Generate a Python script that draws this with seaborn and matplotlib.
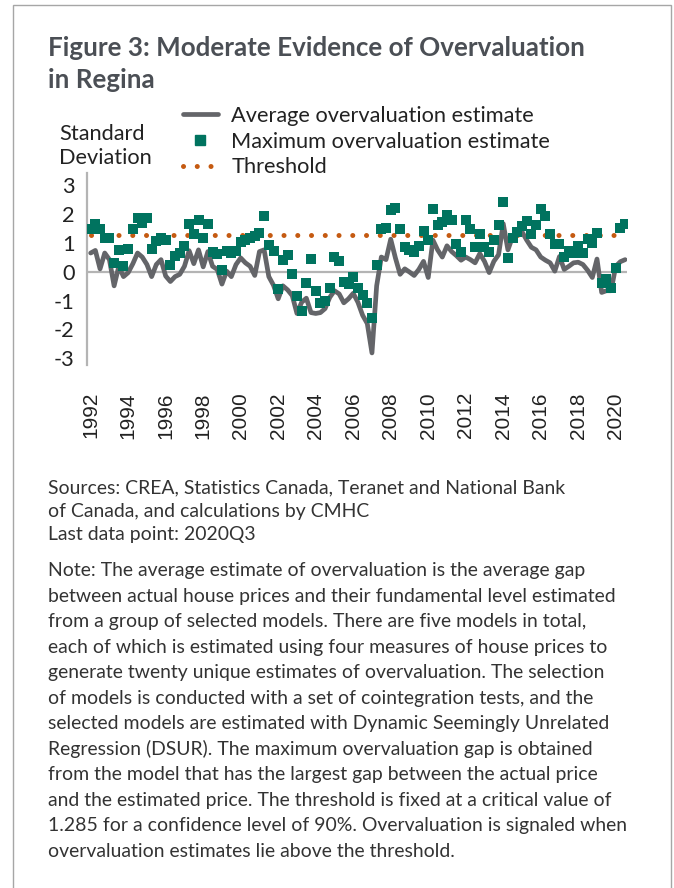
import matplotlib
matplotlib.use("Agg")
import matplotlib.pyplot as plt
import matplotlib.patches as mpatches
from matplotlib.lines import Line2D
import numpy as np
import pandas as pd
import seaborn as sns

# ---------------- data ----------------
start_year = 1992
n_quarters = 115  # 1992Q1 .. 2020Q3

avg_estimate = [
    0.65, 0.74, 0.10, 0.65, 0.42, -0.49, 0.19, -0.17, -0.03, 0.28,
    0.65, 0.51, 0.25, -0.17, 0.25, 0.42, -0.15, -0.34, -0.17, -0.09,
    0.19, 0.73, 0.28, 0.76, 0.17, 0.70, 0.19, 0.08, -0.43, 0.02,
    -0.17, 0.25, 0.48, 0.31, 0.19, -0.13, 0.70, 0.76, -0.17, -0.47,
    -0.94, -0.49, -0.63, -0.83, -1.45, -1.06, -0.92, -1.42, -1.45, -1.42,
    -1.28, -0.89, -0.66, -0.77, -1.08, -0.94, -0.75, -1.06, -1.51, -1.80,
    -2.82, -0.49, 0.51, 0.42, 1.13, 0.48, -0.09, 0.10, -0.01, -0.13,
    0.08, 0.36, -0.20, 1.10, 0.76, 0.51, 0.90, 0.70, 0.56, 0.40,
    0.51, 0.42, 0.31, 0.63, 0.36, -0.03, 0.36, 0.59, 1.67, 0.76,
    1.22, 1.39, 1.39, 1.10, 0.85, 0.76, 0.51, 0.40, 0.31, 0.02,
    0.53, 0.08, 0.19, 0.31, 0.33, 0.25, 0.05, -0.20, 0.44, -0.72,
    -0.66, -0.66, 0.19, 0.35, 0.42,
]

max_estimate = [
    1.50, 1.67, 1.47, 1.16, 1.16, 0.31, 0.76, 0.19, 0.80, 1.50,
    1.86, 1.69, 1.86, 0.78, 1.07, 1.18, 1.10, 0.25, 0.53, 0.65,
    0.88, 1.65, 1.30, 1.78, 1.16, 1.67, 0.67, 0.63, 0.05, 0.73,
    0.65, 0.73, 1.05, 1.10, 1.16, 1.25, 1.33, 1.95, 0.93, 0.73,
    -0.60, 0.40, 0.59, -0.07, -0.83, -1.38, -0.38, 0.44, -0.66, -1.08,
    -1.03, -0.57, 0.51, 0.39, -0.35, -0.43, -0.20, -0.55, -0.81, -1.09,
    -1.60, 0.24, 1.49, 1.53, 2.13, 2.22, 1.48, 0.85, 0.76, 0.67,
    0.90, 1.43, 1.10, 2.18, 1.61, 1.73, 1.98, 1.78, 0.97, 0.68,
    1.78, 1.47, 0.85, 1.30, 0.85, 0.67, 1.10, 1.64, 2.43, 0.48,
    1.16, 1.39, 1.58, 1.75, 1.30, 1.61, 2.18, 1.95, 1.30, 0.97,
    0.97, 0.51, 0.73, 0.65, 0.91, 0.65, 1.14, 0.99, 1.33, -0.38,
    -0.26, -0.57, 0.14, 1.52, 1.67,
]

threshold_value = 1.285
tick_years = list(range(1992, 2021, 2))
y_ticks = [3, 2, 1, 0, -1, -2, -3]

legend_labels = ["Average overvaluation estimate",
                 "Maximum overvaluation estimate",
                 "Threshold"]

title_lines = ["Figure 3: Moderate Evidence of Overvaluation", "in Regina"]
y_label_lines = ["Standard", "Deviation"]
source_lines = [
    "Sources: CREA, Statistics Canada, Teranet and National Bank",
    "of Canada, and calculations by CMHC",
    "Last data point: 2020Q3",
]
note_lines = [
    "Note: The average estimate of overvaluation is the average gap",
    "between actual house prices and their fundamental level estimated",
    "from a group of selected models. There are five models in total,",
    "each of which is estimated using four measures of house prices to",
    "generate twenty unique estimates of overvaluation. The selection",
    "of models is conducted with a set of cointegration tests, and the",
    "selected models are estimated with Dynamic Seemingly Unrelated",
    "Regression (DSUR). The maximum overvaluation gap is obtained",
    "from the model that has the largest gap between the actual price",
    "and the estimated price. The threshold is fixed at a critical value of",
    "1.285 for a confidence level of 90%. Overvaluation is signaled when",
    "overvaluation estimates lie above the threshold.",
]

# ---------------- styling ----------------
C_LINE = "#646569"
C_MARK = "#00735f"
C_THR = "#c55a11"
C_AXIS = "#b4b4b4"
C_TITLE = "#4b4f55"
C_TEXT = "#333333"
FONT = "Lato"

sns.set_theme(style="white")
plt.rcParams["font.family"] = [FONT, "DejaVu Sans"]

W, H = 674, 888
fig = plt.figure(figsize=(W / 100, H / 100), dpi=100)
renderer = fig.canvas.get_renderer()


def fx(px):
    return px / W


def fy(py):
    return 1 - py / H


def fit_size(text, target_px, weight="normal", family=FONT, base=20.0):
    t = fig.text(0, 0, text, fontsize=base, family=family, weight=weight)
    w = t.get_window_extent(renderer).width
    t.remove()
    return base * target_px / w


df = pd.DataFrame({
    "q": np.arange(n_quarters),
    "avg": avg_estimate,
    "max": max_estimate,
    "thr": [threshold_value] * n_quarters,
})

ax_left, ax_right, ax_top, ax_bottom = 87.3, 627.0, 172.7, 365.0
ax = fig.add_axes([fx(ax_left), fy(ax_bottom), fx(ax_right - ax_left),
                   (ax_bottom - ax_top) / H])

sns.lineplot(data=df, x="q", y="thr", ax=ax, color=C_THR, lw=3.6,
             linestyle=(0, (0.01, 2.74)), dash_capstyle="round", zorder=2)
sns.lineplot(data=df, x="q", y="avg", ax=ax, color=C_LINE, lw=3.4,
             solid_joinstyle="round", zorder=3)
sns.scatterplot(data=df, x="q", y="max", ax=ax, color=C_MARK, marker="s",
                s=44, linewidth=0, zorder=4)
ax.axhline(0, color=C_AXIS, lw=1.6, zorder=1)

ax.set_xlim(-0.72, 114.4)
ax.set_ylim(-3.24, 3.44)
ax.set_xlabel("")
ax.set_ylabel("")
for s in ["top", "right", "bottom"]:
    ax.spines[s].set_visible(False)
ax.spines["left"].set_color(C_AXIS)
ax.spines["left"].set_linewidth(1.6)

ax.set_xticks([(y - start_year) * 4 for y in tick_years])
ax.set_xticklabels([str(y) for y in tick_years], rotation=90,
                   family=["Liberation Sans", "DejaVu Sans"], fontsize=15,
                   color="#222222")
ax.tick_params(axis="x", length=0, pad=19.5)

leg_size = fit_size(legend_labels[0], 295) * 1.03
ax.set_yticks(y_ticks)
ax.set_yticklabels([str(v) for v in y_ticks],
                   fontsize=leg_size, color="#222222")
ax.tick_params(axis="y", length=0, pad=9.0)

# legend
handles = [
    Line2D([], [], color=C_LINE, lw=3.4),
    Line2D([], [], color=C_MARK, marker="s", ms=6.6, lw=0),
    Line2D([], [], color=C_THR, lw=3.6, linestyle=(0, (0.01, 2.74)),
           dash_capstyle="round"),
]
leg = fig.legend(handles, legend_labels, loc="upper left",
                 bbox_to_anchor=(fx(183), fy(106)), frameon=False,
                 fontsize=leg_size, handlelength=1.6, handletextpad=0.62,
                 labelspacing=0.26, borderpad=0, borderaxespad=0)
for t in leg.get_texts():
    t.set_color("#222222")

# y label
for i, line in enumerate(y_label_lines):
    fig.text(fx(59), fy(140 + 24 * i), line, fontsize=leg_size,
             color="#222222", va="baseline")

# title
title_size = fit_size(title_lines[0], 535, weight="bold")
for i, line in enumerate(title_lines):
    fig.text(fx(48), fy(56 + 32 * i), line, fontsize=title_size,
             weight="bold", color=C_TITLE, va="baseline")

# sources and note
body_size = fit_size(note_lines[9], 563)
for i, line in enumerate(source_lines):
    fig.text(fx(48), fy(493 + 23.5 * i), line, fontsize=body_size,
             color=C_TEXT, va="baseline")
for i, line in enumerate(note_lines):
    fig.text(fx(48), fy(576 + 25.5 * i), line, fontsize=body_size,
             color=C_TEXT, va="baseline")

# frame
fig.patches.append(mpatches.Rectangle((fx(13), -0.05), fx(671 - 13),
                                      fy(5) + 0.05, transform=fig.transFigure,
                                      fill=False, edgecolor="#a6a6a6", lw=1.0))

fig.savefig("out.png", dpi=100)
